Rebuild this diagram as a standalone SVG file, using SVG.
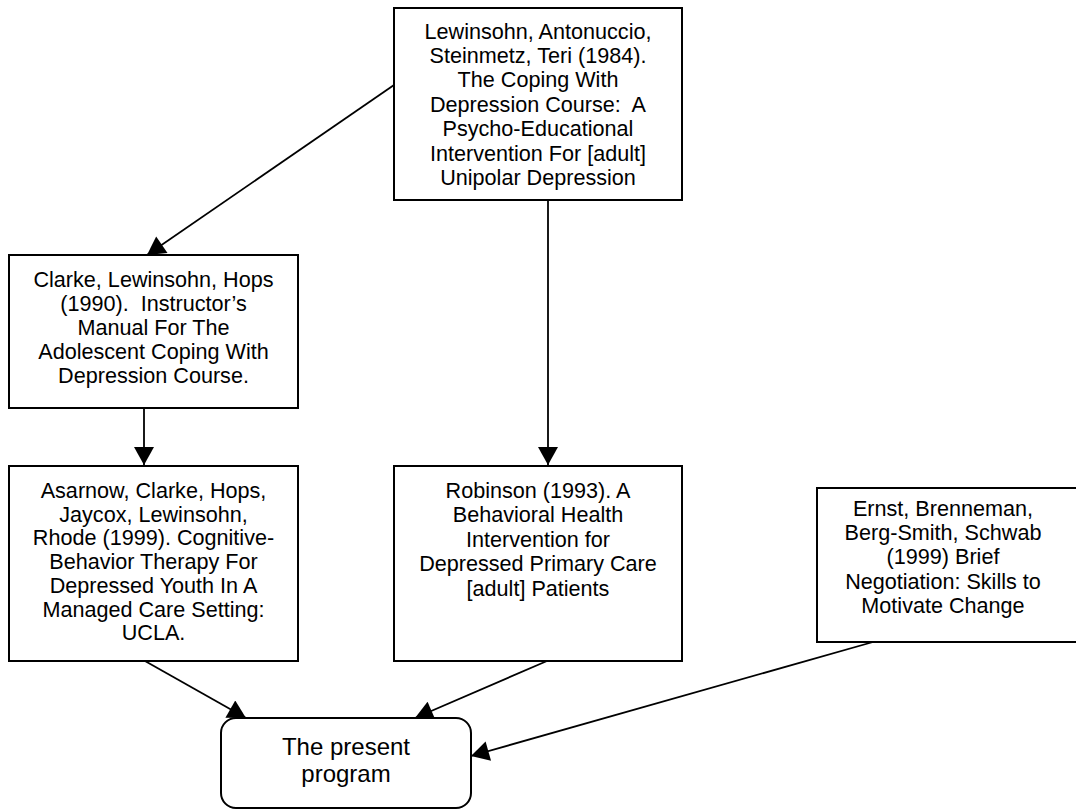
<svg xmlns="http://www.w3.org/2000/svg" width="1076" height="810" viewBox="0 0 1076 810">
<style>
  .box { fill: #ffffff; stroke: #000000; stroke-width: 2; }
  .t { font-family: "Liberation Sans", Arial, sans-serif; font-size: 21.6px; fill: #000000; text-anchor: middle; white-space: pre; }
  .big { font-size: 24px; }
  .c { stroke: #000000; stroke-width: 1.8; fill: none; marker-end: url(#arr); }
</style>
<defs>
  <marker id="arr" markerUnits="userSpaceOnUse" markerWidth="20" markerHeight="20" viewBox="0 0 18 20" refX="18" refY="10" orient="auto">
    <path d="M0,0 L18,10 L0,20 Z" fill="#000000"/>
  </marker>
</defs>
<rect width="1076" height="810" fill="#ffffff"/>

<g id="connectors">
  <line class="c" x1="394" y1="85" x2="147" y2="255"/>
  <line class="c" x1="548" y1="200" x2="548" y2="465"/>
  <line class="c" x1="144" y1="408" x2="144" y2="465"/>
  <line class="c" x1="145" y1="661" x2="246" y2="718"/>
  <line class="c" x1="547" y1="661" x2="415" y2="718"/>
  <line class="c" x1="873" y1="642" x2="471" y2="756"/>
</g>

<g id="lewinsohn1984">
  <rect class="box" x="394" y="8" width="288" height="192"/>
  <text class="t" xml:space="preserve" x="538" y="38.5">Lewinsohn, Antonuccio,</text>
  <text class="t" xml:space="preserve" x="538" y="62.9">Steinmetz, Teri (1984).</text>
  <text class="t" xml:space="preserve" x="538" y="87.3">The Coping With</text>
  <text class="t" xml:space="preserve" x="538" y="111.7">Depression Course:  A</text>
  <text class="t" xml:space="preserve" x="538" y="136.1">Psycho-Educational</text>
  <text class="t" xml:space="preserve" x="538" y="160.5">Intervention For [adult]</text>
  <text class="t" xml:space="preserve" x="538" y="184.9">Unipolar Depression</text>
</g>

<g id="clarke1990">
  <rect class="box" x="9" y="255" width="289" height="153"/>
  <text class="t" xml:space="preserve" x="153.5" y="286.5">Clarke, Lewinsohn, Hops</text>
  <text class="t" xml:space="preserve" x="153.5" y="310.5">(1990).  Instructor’s</text>
  <text class="t" xml:space="preserve" x="153.5" y="334.5">Manual For The</text>
  <text class="t" xml:space="preserve" x="153.5" y="358.5">Adolescent Coping With</text>
  <text class="t" xml:space="preserve" x="153.5" y="382.5">Depression Course.</text>
</g>

<g id="asarnow1999">
  <rect class="box" x="9" y="466" width="289" height="195"/>
  <text class="t" xml:space="preserve" x="153.5" y="498">Asarnow, Clarke, Hops,</text>
  <text class="t" xml:space="preserve" x="153.5" y="521.7">Jaycox, Lewinsohn,</text>
  <text class="t" xml:space="preserve" x="153.5" y="545.4">Rhode (1999). Cognitive-</text>
  <text class="t" xml:space="preserve" x="153.5" y="569.1">Behavior Therapy For</text>
  <text class="t" xml:space="preserve" x="153.5" y="592.8">Depressed Youth In A</text>
  <text class="t" xml:space="preserve" x="153.5" y="616.5">Managed Care Setting:</text>
  <text class="t" xml:space="preserve" x="153.5" y="640.2">UCLA.</text>
</g>

<g id="robinson1993">
  <rect class="box" x="394" y="466" width="288" height="195"/>
  <text class="t" xml:space="preserve" x="538" y="497.5">Robinson (1993). A</text>
  <text class="t" xml:space="preserve" x="538" y="522">Behavioral Health</text>
  <text class="t" xml:space="preserve" x="538" y="546.5">Intervention for</text>
  <text class="t" xml:space="preserve" x="538" y="571">Depressed Primary Care</text>
  <text class="t" xml:space="preserve" x="538" y="595.5">[adult] Patients</text>
</g>

<g id="ernst1999">
  <rect class="box" x="817" y="488" width="266" height="154"/>
  <text class="t" xml:space="preserve" x="943" y="516">Ernst, Brenneman,</text>
  <text class="t" xml:space="preserve" x="943" y="540">Berg-Smith, Schwab</text>
  <text class="t" xml:space="preserve" x="943" y="564">(1999) Brief</text>
  <text class="t" xml:space="preserve" x="943" y="588.5">Negotiation: Skills to</text>
  <text class="t" xml:space="preserve" x="943" y="613">Motivate Change</text>
</g>

<g id="present">
  <rect class="box" x="221" y="718" width="250" height="90" rx="15" ry="15"/>
  <text class="t big" xml:space="preserve" x="346" y="755">The present</text>
  <text class="t big" xml:space="preserve" x="346" y="782">program</text>
</g>
</svg>
